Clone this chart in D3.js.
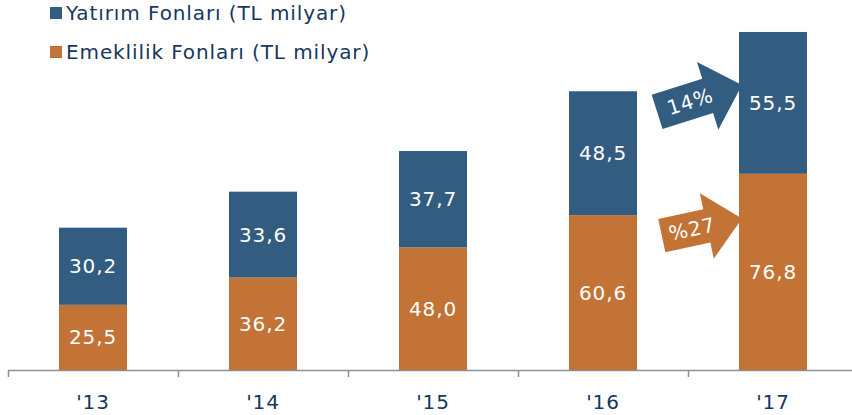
<!DOCTYPE html>
<html>
<head>
<meta charset="utf-8">
<script src="https://cdn.jsdelivr.net/npm/d3@7"></script>
<style>
  body { margin: 0; background: #fff; }
  text { font-family: "DejaVu Sans", Verdana, sans-serif; letter-spacing: 0.9px; }
</style>
</head>
<body>
<div id="chart"></div>
<script>
// chart data
var years = ["'13", "'14", "'15", "'16", "'17"];
var emeklilik = [25.5, 36.2, 48.0, 60.6, 76.8];
var yatirim = [30.2, 33.6, 37.7, 48.5, 55.5];
var seriesNames = ["Yatırım Fonları (TL milyar)", "Emeklilik Fonları (TL milyar)"];
var growthLabels = ["14%", "%27"];

var blue = "#335c81", orange = "#c27335", navy = "#17375e";

var width = 852, height = 415;
var margin = { left: 8, right: -6, top: 12, bottom: 45 };

var svg = d3.select("#chart").append("svg")
    .attr("width", width)
    .attr("height", height);

var x = d3.scaleBand()
    .domain(years)
    .range([margin.left, width - margin.right])
    .paddingInner(0)
    .paddingOuter(0);

var y = d3.scaleLinear()
    .domain([0, 140])
    .range([height - margin.bottom, height - margin.bottom - 140 * 2.555]);

var barW = x.bandwidth() * 0.4;
var base = y(0);

var data = years.map(function (d, i) {
    return { year: d, e: emeklilik[i], y: yatirim[i] };
});

// axis line + tick marks at category boundaries
svg.append("line")
    .attr("x1", margin.left).attr("x2", width)
    .attr("y1", base + 0.5).attr("y2", base + 0.5)
    .style("stroke", "#8a8f9c").style("stroke-width", 1.5);

svg.selectAll(".tk")
    .data(years)
    .enter().append("line")
    .attr("class", "tk")
    .attr("x1", function (d) { return x(d) + 0.5; })
    .attr("x2", function (d) { return x(d) + 0.5; })
    .attr("y1", base)
    .attr("y2", base + 7)
    .style("stroke", "#8a8f9c").style("stroke-width", 1.5);

svg.selectAll(".xl")
    .data(years)
    .enter().append("text")
    .attr("class", "xl")
    .attr("x", function (d) { return x(d) + x.bandwidth() / 2; })
    .attr("y", base + 39)
    .attr("text-anchor", "middle")
    .style("font-size", "20px")
    .style("fill", navy)
    .text(function (d) { return d; });

// orange (bottom) segments
svg.selectAll(".be")
    .data(data)
    .enter().append("rect")
    .attr("class", "be")
    .attr("x", function (d) { return x(d.year) + (x.bandwidth() - barW) / 2; })
    .attr("width", barW)
    .attr("y", function (d) { return y(d.e); })
    .attr("height", function (d) { return base - y(d.e); })
    .style("fill", orange);

// blue (top) segments
svg.selectAll(".by")
    .data(data)
    .enter().append("rect")
    .attr("class", "by")
    .attr("x", function (d) { return x(d.year) + (x.bandwidth() - barW) / 2; })
    .attr("width", barW)
    .attr("y", function (d) { return y(d.e + d.y); })
    .attr("height", function (d) { return y(d.e) - y(d.e + d.y); })
    .style("fill", blue);

var fmt = function (v) { return v.toFixed(1).replace(".", ","); };

svg.selectAll(".le")
    .data(data)
    .enter().append("text")
    .attr("class", "le")
    .attr("x", function (d) { return x(d.year) + x.bandwidth() / 2; })
    .attr("y", function (d) { return y(d.e / 2) + 7; })
    .attr("text-anchor", "middle")
    .style("font-size", "20px")
    .style("fill", "#fff")
    .text(function (d) { return fmt(d.e); });

svg.selectAll(".ly")
    .data(data)
    .enter().append("text")
    .attr("class", "ly")
    .attr("x", function (d) { return x(d.year) + x.bandwidth() / 2; })
    .attr("y", function (d) { return y(d.e + d.y / 2) + 7; })
    .attr("text-anchor", "middle")
    .style("font-size", "20px")
    .style("fill", "#fff")
    .text(function (d) { return fmt(d.y); });

// legend
var legend = svg.selectAll(".lg")
    .data(seriesNames)
    .enter().append("g")
    .attr("class", "lg")
    .attr("transform", function (d, i) { return "translate(50," + (7 + i * 39) + ")"; });

legend.append("rect")
    .attr("width", 12).attr("height", 12)
    .style("fill", function (d, i) { return i == 0 ? blue : orange; });

legend.append("text")
    .attr("x", 16)
    .attr("y", 13)
    .style("font-size", "20px")
    .style("fill", navy)
    .text(function (d) { return d; });

// growth arrows between '16 and '17
function arrowPath(bodyLen, bodyH, headLen, headH) {
    var p = d3.path();
    p.moveTo(0, -bodyH / 2);
    p.lineTo(bodyLen, -bodyH / 2);
    p.lineTo(bodyLen, -headH / 2);
    p.lineTo(bodyLen + headLen, 0);
    p.lineTo(bodyLen, headH / 2);
    p.lineTo(bodyLen, bodyH / 2);
    p.lineTo(0, bodyH / 2);
    p.closePath();
    return p.toString();
}

var tipX = x("'17") + (x.bandwidth() - barW) / 2 + 3;
var arrows = [
    { tip: [tipX, y(111.5)], angle: -17.5, len: 89, bodyH: 36, headH: 71, fill: blue, label: growthLabels[0] },
    { tip: [tipX, y(59.3)], angle: -12, len: 82, bodyH: 34, headH: 67, fill: orange, label: growthLabels[1] }
];

arrows.forEach(function (a) {
    var rad = a.angle * Math.PI / 180;
    var sx = a.tip[0] - a.len * Math.cos(rad);
    var sy = a.tip[1] - a.len * Math.sin(rad);
    var g = svg.append("g")
        .attr("transform", "translate(" + sx + "," + sy + ") rotate(" + a.angle + ")");
    g.append("path")
        .attr("d", arrowPath(a.len - 36, a.bodyH, 36, a.headH))
        .style("fill", a.fill);
    g.append("text")
        .attr("x", (a.len - 36) / 2 + 8)
        .attr("y", 7)
        .attr("text-anchor", "middle")
        .style("font-size", "20px")
        .style("fill", "#fff")
        .text(a.label);
});
</script>
</body>
</html>
